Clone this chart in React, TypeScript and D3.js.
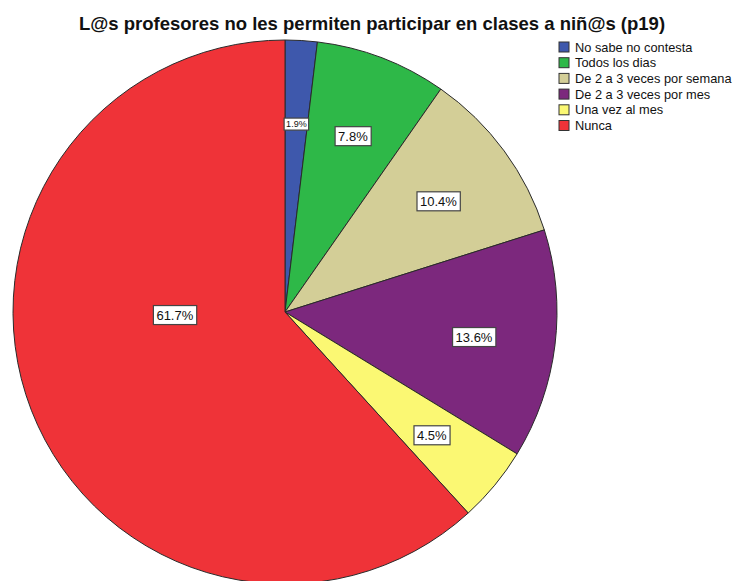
import React, { useEffect, useRef } from 'react'
import * as d3 from 'd3'

const categories = [
  'No sabe no contesta',
  'Todos los dias',
  'De 2 a 3 veces por semana',
  'De 2 a 3 veces por mes',
  'Una vez al mes',
  'Nunca',
]
const percents = [1.9, 7.8, 10.4, 13.6, 4.5, 61.7]
const colors = ['#3e58ac', '#2eb848', '#d3ce97', '#7c287d', '#fbf873', '#ef3338']

const TITLE = 'L@s profesores no les permiten participar en clases a niñ@s (p19)'

const App = () => {
  const ref = useRef<SVGSVGElement>(null)

  const WIDTH = 733
  const HEIGHT = 581
  const CX = 285
  const CY = 312
  const R = 272

  useEffect(() => {
    const svg = d3.select(ref.current)
    svg.selectAll('*').remove()

    const data = categories.map((c, i) => ({ name: c, value: percents[i], color: colors[i] }))

    const pie = d3.pie<any>().sort(null).value(d => d.value)
    const arc = d3.arc<any>().innerRadius(0).outerRadius(R)
    const arcs = pie(data)

    const g = svg.append('g').attr('transform', `translate(${CX},${CY})`)

    g.selectAll('path')
      .data(arcs)
      .enter()
      .append('path')
      .attr('d', arc)
      .attr('fill', d => d.data.color)
      .attr('stroke', '#2a2a2a')
      .attr('stroke-width', 1)

    // labels: the big slice sits off to the left, like the original
    const labelPos = (d: any) => {
      if (d.data.name === 'Nunca') return [-R * 0.405, 1]
      const a = (d.startAngle + d.endAngle) / 2
      const k = 0.7
      return [Math.sin(a) * R * k, -Math.cos(a) * R * k]
    }

    arcs.forEach(d => {
      const [x, y] = labelPos(d)
      const small = d.data.value < 3
      const lg = g.append('g').attr('transform', `translate(${x},${y + 2})`)
      const rect = lg.append('rect')
      const t = lg.append('text')
        .text(d.data.value.toFixed(1) + '%')
        .attr('text-anchor', 'middle')
        .attr('dy', '0.35em')
        .attr('font-family', 'Liberation Sans, Arial, sans-serif')
        .attr('font-size', small ? 9 : 13)
        .attr('fill', '#111')
      const bb = (t.node() as SVGTextElement).getBBox()
      const px = small ? 2 : 3
      const py = small ? 1 : 2
      rect
        .attr('x', bb.x - px)
        .attr('y', bb.y - py)
        .attr('width', bb.width + px * 2)
        .attr('height', bb.height + py * 2)
        .attr('fill', '#fff')
        .attr('stroke', '#444')
        .attr('stroke-width', 1.2)
    })

    svg.append('text')
      .attr('x', 372)
      .attr('y', 30)
      .attr('text-anchor', 'middle')
      .attr('font-family', 'Liberation Sans, Arial, sans-serif')
      .attr('font-weight', 'bold')
      .attr('font-size', 18.5)
      .attr('fill', '#111')
      .text(TITLE)

    const legend = svg.append('g').attr('transform', 'translate(559, 42)')
    const rows = legend.selectAll('g')
      .data(data)
      .enter()
      .append('g')
      .attr('transform', (d, i) => `translate(0, ${i * 15.7})`)

    rows.append('rect')
      .attr('width', 10)
      .attr('height', 10)
      .attr('fill', d => d.color)
      .attr('stroke', '#333')
      .attr('stroke-width', 1)

    rows.append('text')
      .attr('x', 16)
      .attr('y', 9.5)
      .attr('font-family', 'Liberation Sans, Arial, sans-serif')
      .attr('font-size', 12.8)
      .attr('fill', '#111')
      .text(d => d.name)
  }, [])

  return (
    <svg
      ref={ref}
      width={WIDTH}
      height={HEIGHT}
      style={{ position: 'absolute', left: 0, top: 0, background: '#fff' }}
    />
  )
}

export default App
